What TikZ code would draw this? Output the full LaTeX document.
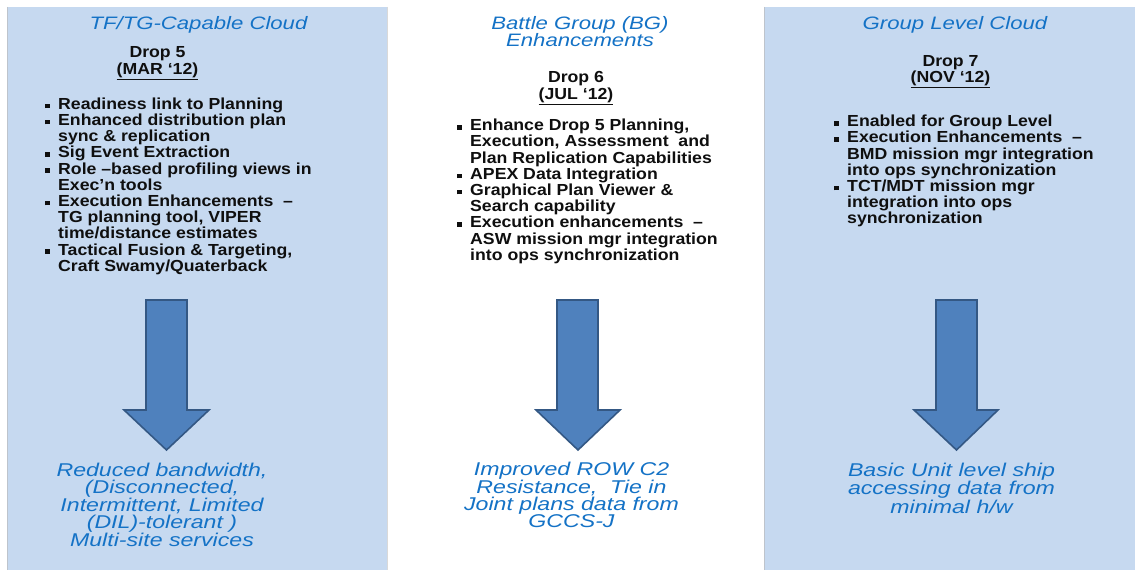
\documentclass[tikz,border=0pt]{standalone}
\usepackage{fontspec}
\setmainfont{Liberation Sans}
\newfontfamily\bodyf[FakeStretch=1.105]{Liberation Sans}
\newfontfamily\titlef[FakeStretch=1.23]{Liberation Sans}
\newfontfamily\resf[FakeStretch=1.25]{Liberation Sans}
\definecolor{panelblue}{RGB}{198,217,240}
\definecolor{paneledge}{RGB}{190,196,204}
\definecolor{titleblue}{RGB}{20,114,198}
\definecolor{txt}{RGB}{15,15,15}
\definecolor{arrowfill}{RGB}{79,129,189}
\definecolor{arrowdraw}{RGB}{52,88,132}
\newcommand\bulmark{\makebox[13pt][l]{\rule[1.2pt]{4.5pt}{4.5pt}}}
\newcommand\bulindent{\hspace*{13pt}}
\tikzset{
  panel/.style={fill=panelblue},
  ttl/.style={font=\titlef\itshape\fontsize{18}{17}\selectfont, text=titleblue, align=center, inner sep=0pt, anchor=north},
  drop/.style={font=\bodyf\bfseries\fontsize{16}{16.5}\selectfont, text=txt, align=center, inner sep=0pt, anchor=north},
  blist/.style={font=\bodyf\bfseries\fontsize{16}{16.2}\selectfont, text=txt, align=left, inner sep=0pt, anchor=north west},
  res/.style={font=\resf\itshape\fontsize{18.5}{16.6}\selectfont, text=titleblue, align=center, inner sep=0pt, anchor=north},
  bigarrow/.style={fill=arrowfill, draw=arrowdraw, line width=1.6pt, line join=miter},
}
\begin{document}
\begin{tikzpicture}[x=1pt,y=-1pt]
\useasboundingbox (0,0) rectangle (1135,572);
\fill[white] (0,0) rectangle (1135,572);
% panels
\fill[panel] (8,7) rectangle (387,570);
\fill[panel] (765,7) rectangle (1135,570);
\draw[paneledge, line width=1pt] (7.5,7) -- (7.5,570);
\draw[paneledge, line width=1pt] (764.5,7) -- (764.5,570);
\draw[white!85!black, line width=0.8pt] (387.5,7) -- (387.5,570);

% titles
\node[ttl] (t1) at (198.5,16.5) {TF/TG-Capable Cloud};
\node[ttl] (t2) at (580,16.5) {Battle Group (BG)\\Enhancements};
\node[ttl] (t3) at (955,16) {Group Level Cloud};

% drops
\node[drop] (d1) at (157.5,46.5) {Drop 5\\\underline{(MAR ‘12)}};
\node[drop] (d2) at (576,71.5) {Drop 6\\\underline{(JUL ‘12)}};
\node[drop] (d3) at (950.5,55) {Drop 7\\\underline{(NOV ‘12)}};

% bullet lists
\node[blist] (l1) at (45,97.5) {%
\bulmark Readiness link to Planning\\
\bulmark Enhanced distribution plan\\
\bulindent sync \& replication\\
\bulmark Sig Event Extraction\\
\bulmark Role –based profiling views in\\
\bulindent Exec’n tools\\
\bulmark Execution Enhancements \ –\\
\bulindent TG planning tool, VIPER\\
\bulindent time/distance estimates\\
\bulmark Tactical Fusion \& Targeting,\\
\bulindent Craft Swamy/Quaterback};

\node[blist] (l2) at (457,119) {%
\bulmark Enhance Drop 5 Planning,\\
\bulindent Execution, Assessment \ and\\
\bulindent Plan Replication Capabilities\\
\bulmark APEX Data Integration\\
\bulmark Graphical Plan Viewer \&\\
\bulindent Search capability\\
\bulmark Execution enhancements \ –\\
\bulindent ASW mission mgr integration\\
\bulindent into ops synchronization};

\node[blist] (l3) at (834,115) {%
\bulmark Enabled for Group Level\\
\bulmark Execution Enhancements \ –\\
\bulindent BMD mission mgr integration\\
\bulindent into ops synchronization\\
\bulmark TCT/MDT mission mgr\\
\bulindent integration into ops\\
\bulindent synchronization};

% arrows
\draw[bigarrow] (146,300) -- (187,300) -- (187,410) -- (209,410) -- (166.5,450) -- (124,410) -- (146,410) -- cycle;
\draw[bigarrow] (557,300) -- (598,300) -- (598,410) -- (620,410) -- (578,450) -- (536,410) -- (557,410) -- cycle;
\draw[bigarrow] (936,300) -- (977,300) -- (977,410) -- (998,410) -- (956.5,450) -- (914,410) -- (936,410) -- cycle;

% results
\node[res] (r1) at (162,463) {Reduced bandwidth,\\(Disconnected,\\Intermittent, Limited\\(DIL)-tolerant )\\Multi-site services};
\node[res] (r2) at (571.5,461.7) {Improved ROW C2\\Resistance, \ Tie in\\Joint plans data from\\GCCS-J};
\node[res] (r3) at (951.5,463) {Basic Unit level ship\\accessing data from\\minimal h/w};
\end{tikzpicture}
\end{document}
